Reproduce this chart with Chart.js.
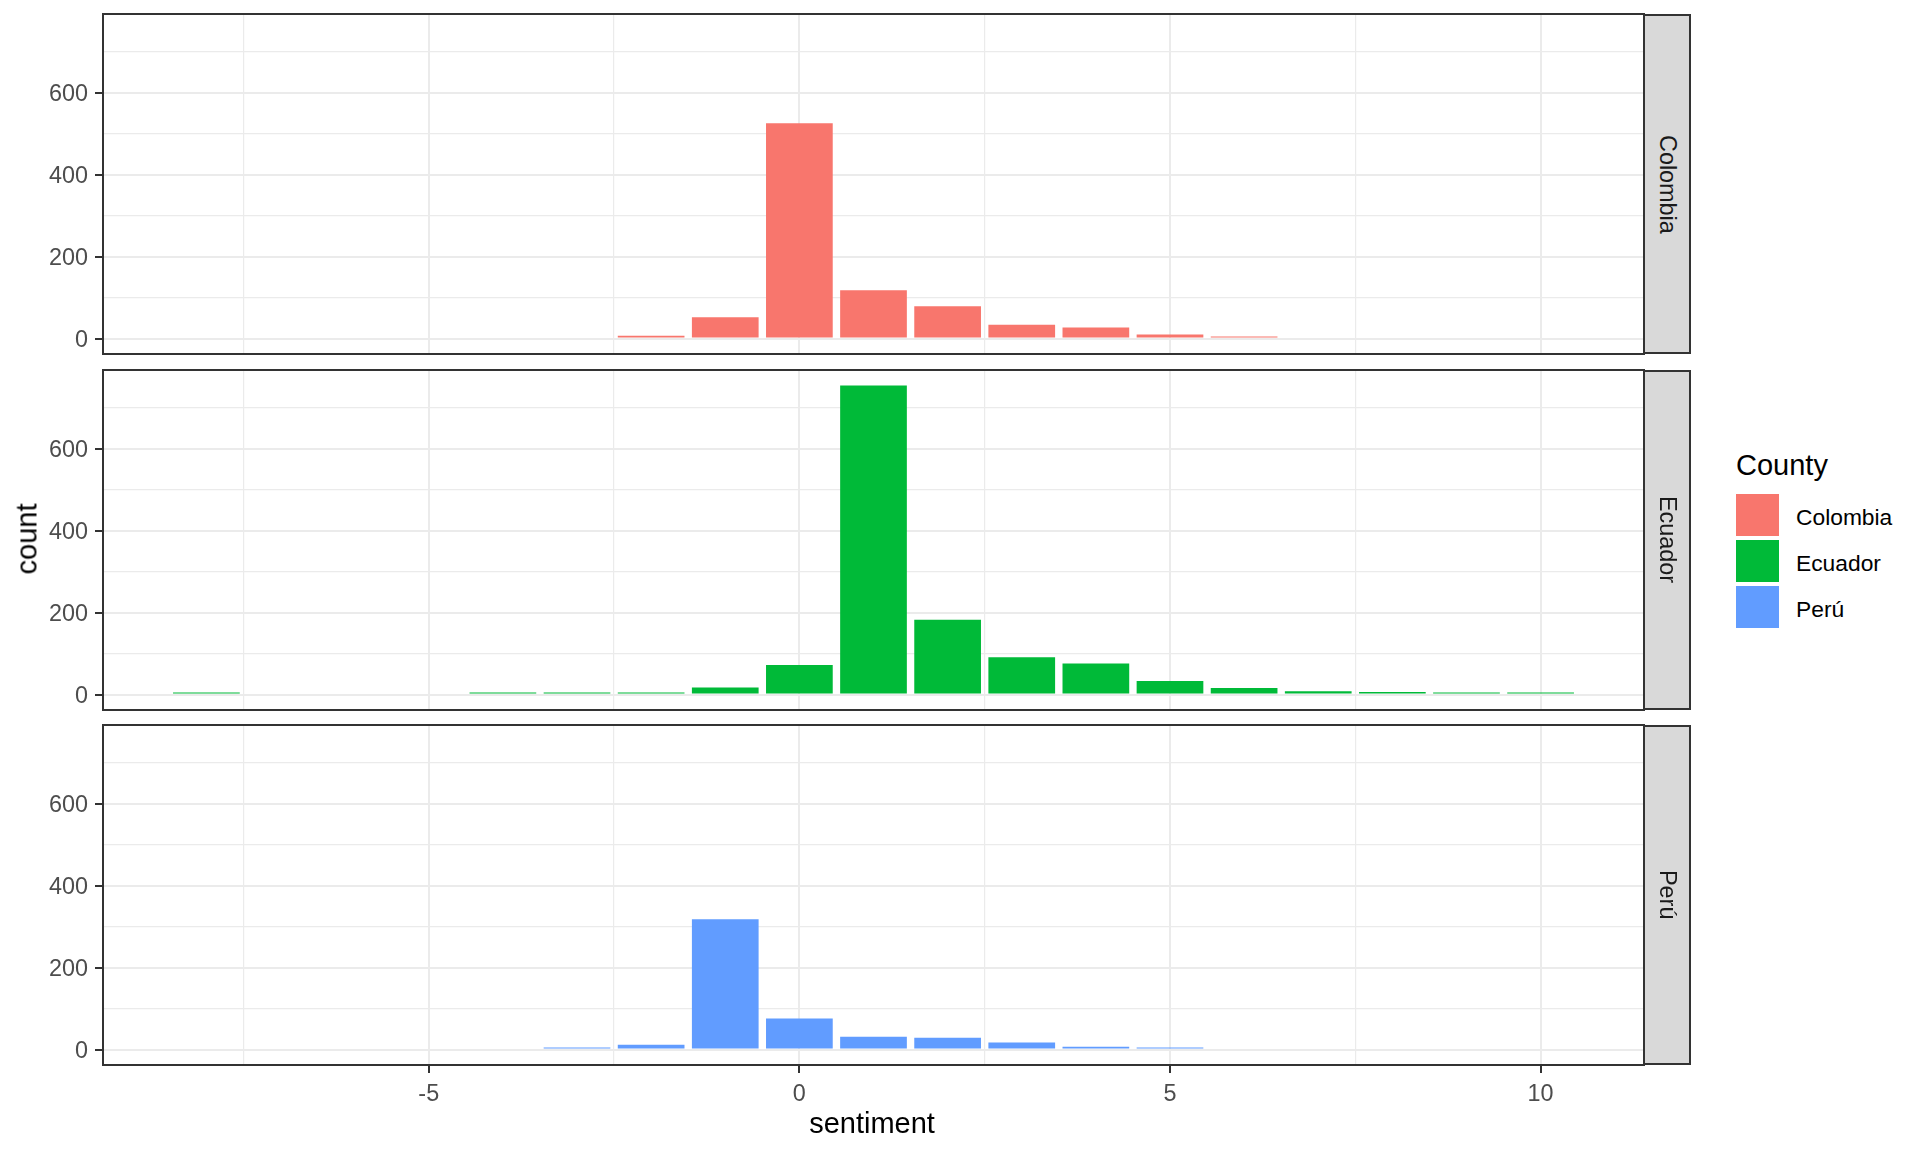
<!DOCTYPE html>
<html>
<head>
<meta charset="utf-8">
<title>sentiment by country</title>
<script src="https://cdn.jsdelivr.net/npm/chart.js@4.4.1/dist/chart.umd.min.js"></script>
<style>
  html, body { margin: 0; padding: 0; background: #ffffff; }
  body { width: 1920px; height: 1152px; position: relative; overflow: hidden;
         font-family: 'Liberation Sans', Arial, sans-serif; }
  canvas { position: absolute; left: 0; }
  .strip { position: absolute; left: 1643px; width: 48px; height: 340px; box-sizing: border-box;
           background: #D9D9D9; border: 2px solid #333333;
           display: flex; align-items: center; justify-content: center; }
  .strip span { writing-mode: vertical-rl; font-size: 23.4px; color: #1A1A1A; line-height: 1; }
  .title { position: absolute; font-size: 29px; line-height: 29px; color: #000000; white-space: nowrap; }
  .key { position: absolute; left: 1736px; width: 43px; height: 42px; }
  .keylab { position: absolute; left: 1796px; height: 42px; line-height: 42px; font-size: 22.8px; color: #000000; }
</style>
</head>
<body>

<canvas id="pColombia" width="1648" height="348" style="top:10px"></canvas>
<canvas id="pEcuador" width="1648" height="348" style="top:366px"></canvas>
<canvas id="pPeru" width="1648" height="404" style="top:721px"></canvas>

<div class="strip" style="top:14px"><span>Colombia</span></div>
<div class="strip" style="top:370px"><span>Ecuador</span></div>
<div class="strip" style="top:725px"><span>Perú</span></div>

<div class="title" style="left:872px; top:1109px; transform:translateX(-50%)">sentiment</div>
<div class="title" style="left:27px; top:539px; transform:translate(-50%,-50%) rotate(-90deg)">count</div>

<div class="title" style="left:1736px; top:451px">County</div>
<div class="key" style="top:494px; background:#F8766D"></div>
<div class="key" style="top:540px; background:#00BA38"></div>
<div class="key" style="top:586px; background:#619CFF"></div>
<div class="keylab" style="top:496px">Colombia</div>
<div class="keylab" style="top:542px">Ecuador</div>
<div class="keylab" style="top:588px">Perú</div>

<script>
// counts of posts by sentiment score, one facet per country
var colombiaX = [-2, -1, 0, 1, 2, 3, 4, 5, 6];
var colombiaCount = [7, 52, 526, 118, 79, 34, 27, 10, 3];

var ecuadorX = [-8, -4, -3, -2, -1, 0, 1, 2, 3, 4, 5, 6, 7, 8, 9, 10];
var ecuadorCount = [2, 2, 2, 4, 17, 72, 755, 183, 91, 76, 33, 16, 8, 6, 2, 2];

var peruX = [-3, -2, -1, 0, 1, 2, 3, 4, 5];
var peruCount = [3, 12, 318, 76, 31, 29, 17, 7, 2];

var xTicks = [-5, 0, 5, 10];
var xGrid = [-7.5, -5, -2.5, 0, 2.5, 5, 7.5, 10];
var xRange = [-9.395, 11.395];

var yTicks = [0, 200, 400, 600];
var yGrid = [0, 100, 200, 300, 400, 500, 600, 700];
var yRange = [-37.75, 792.75];

var FONT = "'Liberation Sans', Arial, sans-serif";

Chart.defaults.font.family = FONT;

// ggplot theme_bw panel border
var panelBorder = {
    id: 'panelBorder',
    afterDraw: function (chart) {
        var a = chart.chartArea;
        var c = chart.ctx;
        c.save();
        c.strokeStyle = '#333333';
        c.lineWidth = 2;
        c.strokeRect(a.left, a.top, a.right - a.left, a.bottom - a.top);
        c.restore();
    }
};

function isIn(list, v) {
    return list.indexOf(v) >= 0;
}

function zeroPad(s) {
    s.paddingLeft = 0; s.paddingRight = 0; s.paddingTop = 0; s.paddingBottom = 0;
}

function makePanel(canvasId, xs, counts, color, showX) {
    var ctx = document.getElementById(canvasId);
    return new Chart(ctx, {
        type: 'bar',
        data: {
            datasets: [{
                data: xs.map(function (x, i) { return { x: x, y: counts[i] }; }),
                backgroundColor: color,
                borderWidth: 0,
                minBarLength: 2,
                categoryPercentage: 0.9,
                barPercentage: 1
            }]
        },
        plugins: [panelBorder],
        options: {
            responsive: false,
            animation: false,
            devicePixelRatio: 1,
            layout: { padding: { top: 4, right: 4, bottom: showX ? 0 : 4, left: 0 } },
            plugins: { legend: { display: false }, tooltip: { enabled: false } },
            scales: {
                x: {
                    type: 'linear',
                    min: xRange[0],
                    max: xRange[1],
                    offset: false,
                    afterBuildTicks: function (s) { s.ticks = xGrid.map(function (v) { return { value: v }; }); },
                    afterFit: function (s) { s.height = showX ? 60 : 0; zeroPad(s); },
                    border: { display: false },
                    grid: {
                        offset: false,
                        color: '#EBEBEB',
                        lineWidth: function (c) { return c.tick && isIn(xTicks, c.tick.value) ? 2 : 1.2; },
                        drawTicks: showX,
                        tickLength: 8,
                        tickWidth: 2,
                        tickColor: function (c) { return c.tick && isIn(xTicks, c.tick.value) ? '#333333' : 'rgba(0,0,0,0)'; }
                    },
                    ticks: {
                        display: showX,
                        autoSkip: false,
                        maxRotation: 0,
                        padding: 8,
                        color: '#4D4D4D',
                        font: { size: 23.4 },
                        callback: function (v) { return isIn(xTicks, v) ? String(v) : ''; }
                    }
                },
                y: {
                    type: 'linear',
                    min: yRange[0],
                    max: yRange[1],
                    afterBuildTicks: function (s) { s.ticks = yGrid.map(function (v) { return { value: v }; }); },
                    afterFit: function (s) { s.width = 103; zeroPad(s); },
                    border: { display: false },
                    grid: {
                        color: '#EBEBEB',
                        lineWidth: function (c) { return c.tick && isIn(yTicks, c.tick.value) ? 2 : 1.2; },
                        tickLength: 8,
                        tickWidth: 2,
                        tickColor: function (c) { return c.tick && isIn(yTicks, c.tick.value) ? '#333333' : 'rgba(0,0,0,0)'; }
                    },
                    ticks: {
                        autoSkip: false,
                        padding: 7,
                        labelOffset: 2,
                        color: '#4D4D4D',
                        font: { size: 23.4 },
                        callback: function (v) { return isIn(yTicks, v) ? String(v) : ''; }
                    }
                }
            }
        }
    });
}

makePanel('pColombia', colombiaX, colombiaCount, '#F8766D', false);
makePanel('pEcuador', ecuadorX, ecuadorCount, '#00BA38', false);
makePanel('pPeru', peruX, peruCount, '#619CFF', true);
</script>
</body>
</html>
